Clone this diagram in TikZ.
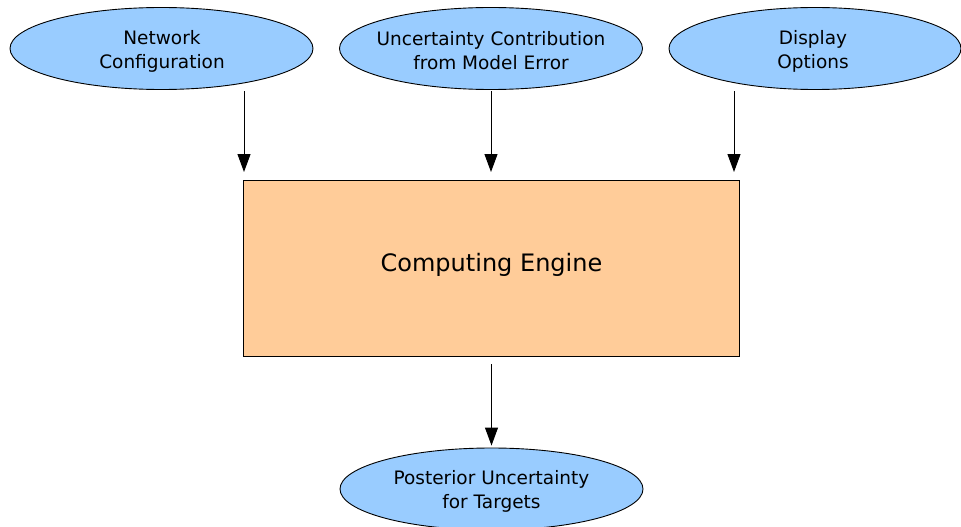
\documentclass[tikz,border=0pt]{standalone}
\usepackage{fontspec}
\setmainfont{DejaVu Sans}
\usetikzlibrary{shapes.geometric,arrows.meta}
\definecolor{ovalblue}{HTML}{99CCFF}
\definecolor{boxpeach}{HTML}{FFCC99}
\begin{document}
\begin{tikzpicture}[x=1pt,y=-1pt,
  oval/.style={ellipse,draw=black,line width=0.9pt,fill=ovalblue,
    minimum width=303pt,minimum height=82pt,inner sep=0pt,align=center,
    font=\fontsize{18.5}{24}\selectfont},
  enginebox/.style={rectangle,draw=black,line width=0.9pt,fill=boxpeach,
    minimum width=496pt,minimum height=176pt,inner sep=0pt},
  flow/.style={line width=1pt,-{Triangle[length=18pt,width=13pt]}}]
  \useasboundingbox (0,0) rectangle (961,527);
  % input ovals
  \node[oval] (net) at (161.5,48.5) {};
  \node[font=\fontsize{18.5}{24}\selectfont,align=center] (netlabel) at (162,51) {Network\\Configuration};
  \node[oval] (model) at (491,48.5) {};
  \node[font=\fontsize{18.5}{24}\selectfont,align=center] (modellabel) at (491,51) {Uncertainty Contribution\\from Model Error};
  \node[oval,minimum width=292pt] (disp) at (815,48.5) {};
  \node[font=\fontsize{18.5}{24}\selectfont,align=center] (displabel) at (813,51) {Display\\Options};
  % engine
  \node[enginebox,anchor=north west] (engine) at (243,180) {};
  \node[font=\fontsize{24}{30}\selectfont] (enginelabel) at (491.5,265) {Computing Engine};
  % output oval
  \node[oval] (post) at (491.5,489) {};
  \node[font=\fontsize{18.5}{24}\selectfont,align=center] (postlabel) at (491.5,491) {Posterior Uncertainty\\for Targets};
  % arrow start points
  \coordinate (s1) at (244,91);
  \coordinate (s2) at (491,91);
  \coordinate (s3) at (734,91);
  \coordinate (s4) at (491.5,364);
  \draw[flow] (s1) -- ([yshift=8pt]engine.north -| s1);
  \draw[flow] (s2) -- ([yshift=8pt]engine.north -| s2);
  \draw[flow] (s3) -- ([yshift=8pt]engine.north -| s3);
  \draw[flow] (s4) -- ([yshift=2pt]post.north);
\end{tikzpicture}
\end{document}
